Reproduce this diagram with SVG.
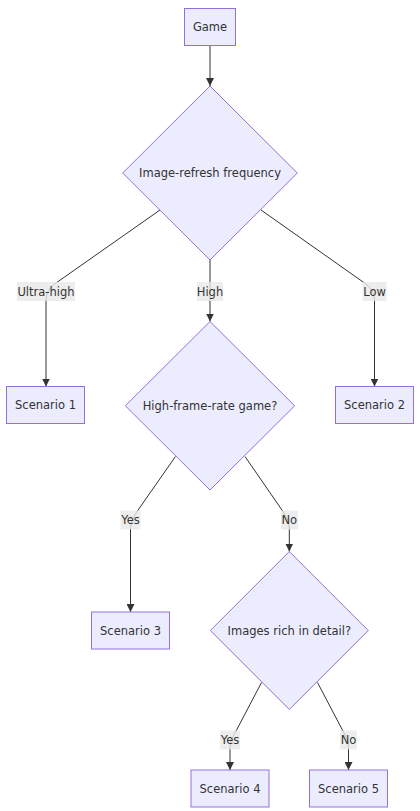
<svg xmlns="http://www.w3.org/2000/svg" width="420" height="811" viewBox="0 0 420 811">
<defs>
<style>
.node rect,.node polygon{fill:#ECECFF;stroke:#9370DB;stroke-width:1}
.node text,.lbl text{font-family:"DejaVu Sans",Verdana,sans-serif;font-size:11.5px;fill:#333;text-anchor:middle;dominant-baseline:central}
.edge{fill:none;stroke:#333;stroke-width:1}
.lbl rect{fill:#e8e8e8;opacity:0.8}
</style>
<marker id="arr" viewBox="0 0 10 10" refX="10" refY="5" markerWidth="8" markerHeight="8" markerUnits="userSpaceOnUse" orient="auto">
<path d="M0,0 L10,5 L0,10 z" fill="#333"/>
</marker>
</defs>
<rect width="420" height="811" fill="#ffffff"/>
<g id="connectors">
<path class="edge" d="M210,45.5 L210,86" marker-end="url(#arr)"/>
<path class="edge" d="M160,210 L56,283 Q46,290 46,300 L46,386.5" marker-end="url(#arr)"/>
<path class="edge" d="M210,260 L210,321.5" marker-end="url(#arr)"/>
<path class="edge" d="M261,210 L364.5,283 Q374.5,290 374.5,300 L374.5,386.5" marker-end="url(#arr)"/>
<path class="edge" d="M175.5,456.5 L136,513 Q130.5,520 130.5,528 L130.5,612" marker-end="url(#arr)"/>
<path class="edge" d="M245,456.5 L284,513 Q289.3,520 289.3,528 L289.3,551.5" marker-end="url(#arr)"/>
<path class="edge" d="M261.5,682.5 L235,733 Q230,740 230,747 L230,770" marker-end="url(#arr)"/>
<path class="edge" d="M317.5,682.5 L344,733 Q348.5,740 348.5,747 L348.5,770" marker-end="url(#arr)"/>
</g>
<g id="edge-labels">
<g class="lbl"><rect x="17" y="282" width="58" height="19"/><text x="46" y="291.5">Ultra-high</text></g>
<g class="lbl"><rect x="197" y="282" width="26" height="19"/><text x="210" y="291.5">High</text></g>
<g class="lbl"><rect x="362.5" y="282" width="24" height="19"/><text x="374.5" y="291.5">Low</text></g>
<g class="lbl"><rect x="120.5" y="510.5" width="20" height="19"/><text x="130.5" y="520">Yes</text></g>
<g class="lbl"><rect x="281" y="510.5" width="17" height="19"/><text x="289.3" y="520">No</text></g>
<g class="lbl"><rect x="220" y="730.5" width="20" height="19"/><text x="230" y="740">Yes</text></g>
<g class="lbl"><rect x="340" y="730.5" width="17" height="19"/><text x="348.5" y="740">No</text></g>
</g>
<g id="game" class="node"><rect x="184.5" y="8.5" width="51" height="37"/><text x="210" y="27">Game</text></g>
<g id="freq" class="node"><polygon points="210,86 297.3,173 210,260 122.7,173"/><text x="210" y="173">Image-refresh frequency</text></g>
<g id="s1" class="node"><rect x="6.5" y="386.5" width="78" height="37"/><text x="45.5" y="405">Scenario 1</text></g>
<g id="hfr" class="node"><polygon points="210,321.5 294.7,405.8 210,490 125.3,405.8"/><text x="210" y="405.8">High-frame-rate game?</text></g>
<g id="s2" class="node"><rect x="335.5" y="386.5" width="78" height="37"/><text x="374.5" y="405">Scenario 2</text></g>
<g id="s3" class="node"><rect x="91.5" y="612" width="78" height="37"/><text x="130.5" y="630.5">Scenario 3</text></g>
<g id="detail" class="node"><polygon points="289.3,551.5 368.3,630.5 289.3,709.5 210.3,630.5"/><text x="289.3" y="630.5">Images rich in detail?</text></g>
<g id="s4" class="node"><rect x="191" y="770" width="78" height="37"/><text x="230" y="788.5">Scenario 4</text></g>
<g id="s5" class="node"><rect x="309.5" y="770" width="78" height="37"/><text x="348.5" y="788.5">Scenario 5</text></g>
</svg>
